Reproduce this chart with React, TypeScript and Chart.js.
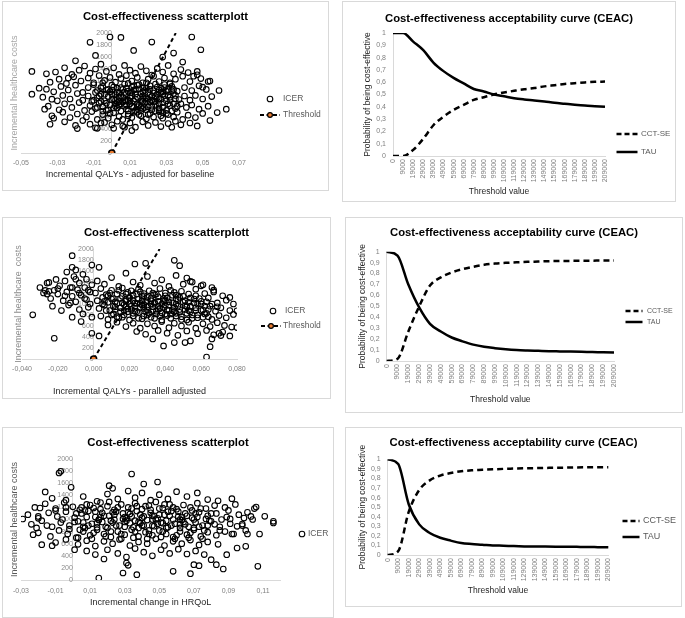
import React, { useEffect, useRef } from 'react';
import { Chart, registerables } from 'chart.js';
Chart.register(...registerables);

const FONT = '"Liberation Sans Narrow", "Liberation Sans", Arial, sans-serif';

// ---------- DATA ----------
const thresholds = ['0','9000','19000','29000','39000','49000','59000','69000','79000','89000','99000','109000','119000','129000','139000','149000','159000','169000','179000','189000','199000','209000'];

const tauTop = [1, 1, 0.93, 0.86, 0.76, 0.69, 0.635, 0.59, 0.545, 0.525, 0.5, 0.485, 0.47, 0.46, 0.452, 0.443, 0.433, 0.425, 0.417, 0.41, 0.405, 0.4];
const cctTop = [0, 0, 0.05, 0.14, 0.25, 0.32, 0.375, 0.415, 0.456, 0.478, 0.5, 0.516, 0.53, 0.543, 0.553, 0.566, 0.576, 0.586, 0.592, 0.598, 0.603, 0.605];

const tauMid = [1, 0.965, 0.7, 0.49, 0.34, 0.27, 0.215, 0.18, 0.15, 0.13, 0.117, 0.107, 0.1, 0.096, 0.093, 0.09, 0.088, 0.086, 0.084, 0.082, 0.08, 0.078];
const cctMid = [0, 0.02, 0.27, 0.5, 0.69, 0.765, 0.81, 0.84, 0.862, 0.88, 0.892, 0.898, 0.903, 0.907, 0.91, 0.913, 0.915, 0.916, 0.917, 0.918, 0.919, 0.92];

const tauBot = [1, 0.95, 0.53, 0.32, 0.23, 0.18, 0.15, 0.125, 0.115, 0.108, 0.1, 0.097, 0.093, 0.09, 0.089, 0.088, 0.087, 0.086, 0.085, 0.084, 0.082, 0.08];
const cctBot = [0, 0.04, 0.45, 0.68, 0.78, 0.83, 0.857, 0.875, 0.885, 0.89, 0.895, 0.9, 0.903, 0.906, 0.908, 0.91, 0.912, 0.913, 0.915, 0.916, 0.917, 0.918];

const xTicksTop = [-0.05, -0.03, -0.01, 0.01, 0.03, 0.05, 0.07];
const xTicksMid = [-0.04, -0.02, 0, 0.02, 0.04, 0.06, 0.08];
const xTicksBot = [-0.03, -0.01, 0.01, 0.03, 0.05, 0.07, 0.09, 0.11];

const thresholdTop: [number, number][] = [[0, 0], [0.0352, 2000]];
const thresholdMid: [number, number][] = [[0, 0], [0.0368, 2000]];

const icerTop: [number, number][] = [
  [-0.044,1359],[-0.044,980],[-0.036,1320],[-0.036,1064],[-0.037,730],[-0.034,479],[-0.033,897],[-0.032,579],[-0.020,1537],[-0.019,407],
  [-0.012,1844],[-0.009,1626],[-0.001,1933],[0.005,1927],[0.012,1710],[0.022,1849],[0.028,1599],[0.034,1665],[0.039,1515],[0.044,1933],
  [0.049,1721],[0.059,1042],[0.063,730],[0.058,674],[0.054,540],[0.047,451],[0.053,1192],[0.050,1097],[0.047,1303],[0.033,429],
  [0.011,373],[0.007,429],[0.001,412],[-0.008,412],[-0.006,501],
  [-0.031,1350],[-0.026,1420],[-0.022,1310],[-0.018,1380],[-0.015,1450],[-0.012,1330],[-0.009,1400],[-0.006,1480],[-0.003,1360],[0.001,1420],
  [0.004,1310],[0.007,1460],[0.010,1380],[0.013,1330],[0.016,1440],[0.019,1370],[0.022,1300],[0.025,1410],[0.028,1350],[0.031,1460],
  [0.034,1320],[0.038,1390],[0.042,1340],[0.047,1360],[-0.024,1250],[0.045,1280],
  [-0.034,1180],[-0.029,1230],[-0.025,1160],[-0.021,1270],[-0.017,1200],[-0.013,1250],[-0.010,1170],[-0.007,1290],[-0.004,1210],[-0.001,1260],
  [0.002,1180],[0.005,1240],[0.008,1290],[0.011,1200],[0.014,1260],[0.017,1170],[0.020,1230],[0.023,1280],[0.026,1190],[0.029,1250],
  [0.032,1170],[0.035,1230],[0.039,1280],[0.043,1190],[0.049,1240],[0.054,1200],
  [-0.040,1080],[-0.032,1020],[-0.028,1110],[-0.024,1050],[-0.020,1130],[-0.016,1010],[-0.013,1090],[-0.010,1140],[-0.008,1040],[-0.005,1110],
  [-0.002,1060],[0.000,1130],[0.003,1010],[0.005,1090],[0.007,1150],[0.009,1030],[0.011,1100],[0.013,1060],[0.015,1140],[0.017,1020],
  [0.019,1080],[0.021,1120],[0.023,1040],[0.025,1100],[0.027,1010],[0.029,1140],[0.031,1060],[0.033,1110],[0.036,1030],[0.040,1090],
  [0.044,1040],[0.048,1120],[0.052,1060],
  [-0.038,930],[-0.030,870],[-0.027,960],[-0.023,900],[-0.019,990],[-0.016,880],[-0.013,950],[-0.011,860],[-0.008,920],[-0.006,980],
  [-0.004,870],[-0.002,940],[0.000,890],[0.002,970],[0.004,860],[0.006,920],[0.008,990],[0.009,880],[0.011,950],[0.012,870],
  [0.014,930],[0.016,990],[0.017,860],[0.019,920],[0.021,970],[0.022,880],[0.024,940],[0.026,900],[0.028,980],[0.030,870],
  [0.032,930],[0.034,990],[0.037,890],[0.040,950],[0.043,880],[0.046,960],[0.050,900],[0.055,940],
  [-0.035,780],[-0.029,720],[-0.026,820],[-0.022,760],[-0.018,840],[-0.015,710],[-0.012,790],[-0.009,740],[-0.007,830],[-0.005,770],
  [-0.003,710],[-0.001,800],[0.001,750],[0.003,840],[0.005,700],[0.007,780],[0.008,730],[0.010,820],[0.012,760],[0.013,710],
  [0.015,800],[0.017,740],[0.018,830],[0.020,770],[0.022,720],[0.024,810],[0.026,750],[0.028,840],[0.030,710],[0.032,790],
  [0.035,740],[0.038,820],[0.041,760],[0.044,800],[0.048,730],[0.053,780],
  [-0.033,620],[-0.027,680],[-0.023,590],[-0.019,650],[-0.014,600],[-0.011,690],[-0.008,560],[-0.005,640],[-0.002,580],[0.001,670],
  [0.004,610],[0.006,560],[0.009,650],[0.011,590],[0.014,680],[0.016,620],[0.019,570],[0.021,660],[0.023,600],[0.026,690],
  [0.028,580],[0.031,640],[0.034,600],[0.036,680],[0.039,560],[0.042,630],[0.046,590],[0.050,660],
  [-0.026,520],[-0.020,460],[-0.016,540],[-0.012,480],[-0.009,420],[-0.004,510],[0.000,470],[0.003,530],[0.006,450],[0.010,500],
  [0.013,430],[0.017,520],[0.020,460],[0.024,510],[0.027,440],[0.031,490],[0.035,530],[0.038,470],[0.043,500],
  [0.004,1000],[0.008,880],[0.012,1050],[0.016,760],[0.020,1010],[0.024,860],[0.028,760],[0.002,820],[0.018,900],[0.026,1050],
  [0.014,820],[0.010,920],
  [-0.009,1010],[-0.007,950],[-0.005,1170],[-0.003,830],[-0.001,1020],[0.001,900],[0.003,1080],[0.005,960],[0.007,870],[0.009,1160],
  [0.011,1010],[0.013,900],[0.015,1070],[0.017,950],[0.019,1170],[0.021,850],[0.023,1000],[0.025,920],[0.027,1080],[0.029,960],
  [0.031,820],[0.033,1040],[0.035,900],[-0.008,760],[-0.006,1090],[-0.004,980],[-0.002,720],[0.000,1050],[0.002,780],[0.004,930],
  [0.006,1060],[0.008,800],[0.010,1000],[0.012,680],[0.014,1130],[0.016,870],[0.018,1040],[0.020,640],[0.022,950],[0.024,1150],
  [0.026,820],[0.028,1020],[0.030,660],[0.032,880],[0.034,1060],[0.036,780],[-0.010,880],[-0.005,700],[0.000,980],[0.003,750],
  [0.006,850],[0.009,700],[0.012,1120],[0.015,640],[0.018,760],[0.021,1060],[0.024,700],[0.027,900],[0.030,1030],[0.033,700],
  [0.001,1100],[0.004,800],[0.007,1010],[0.010,860],[0.013,980],[0.016,700],[0.019,860],[0.022,780],[0.025,980],[0.028,680],
  [0.031,960],[0.034,820],[-0.003,1050],[-0.006,860],[0.002,880],[0.008,1080],[0.014,770],[0.020,900],[0.026,720],[0.032,1150],
  [0.005,820],[0.011,780],[0.017,1090],[0.023,860],[0.029,1090],[0.035,960],[-0.001,660],[0.009,620],[0.019,720],[0.027,620]
];

const icerMid: [number, number][] = [
  [-0.034,803],[-0.022,377],[-0.027,1246],[-0.026,1180],[-0.025,1392],[-0.021,1447],[-0.012,1879],[-0.012,1666],[-0.001,1708],[0.003,1666],
  [-0.001,468],[0.003,420],[0.023,1727],[0.029,1739],[0.033,365],[0.039,237],[0.045,1794],[0.048,1696],[0.045,298],[0.051,298],
  [0.054,328],[0.063,36],[0.065,225],[0.066,365],[0.076,1119],[0.080,876],[0.080,571],[0.076,420],[0.070,468],[0.071,426],
  [0.067,1252],[0.061,1350],[0.055,1398],[0.052,1471],
  [-0.030,1300],[-0.028,1200],[-0.026,1380],[-0.024,1100],[-0.022,1250],[-0.020,1180],[-0.019,1330],[-0.017,1060],[-0.016,1420],[-0.015,1220],
  [-0.014,980],[-0.013,1300],[-0.012,1140],[-0.011,1500],[-0.010,1040],[-0.009,1260],[-0.008,900],[-0.008,1380],[-0.007,1160],[-0.006,820],
  [-0.005,1300],[-0.004,1080],[-0.004,1450],[-0.003,940],[-0.002,1220],[-0.001,760],[-0.001,1350],[-0.018,880],[-0.023,960],[-0.012,760],
  [-0.007,680],[-0.015,1580],[-0.010,1620],[-0.006,1540],
  [0.002,1420],[0.006,1360],[0.010,1480],[0.014,1320],[0.018,1560],[0.022,1400],[0.026,1340],[0.030,1500],[0.034,1380],[0.038,1440],
  [0.042,1320],[0.046,1520],[0.050,1360],[0.054,1410],[0.060,1330],[0.066,1300],
  [0.001,1200],[0.004,1280],[0.007,1170],[0.010,1250],[0.013,1180],[0.016,1290],[0.019,1210],[0.022,1160],[0.025,1270],[0.028,1190],
  [0.031,1240],[0.034,1170],[0.037,1280],[0.040,1200],[0.043,1250],[0.046,1160],[0.049,1230],[0.053,1180],[0.057,1270],[0.062,1190],
  [0.067,1220],[0.072,1150],
  [0.002,1060],[0.005,1120],[0.008,1030],[0.011,1100],[0.013,1010],[0.016,1140],[0.018,1050],[0.020,1110],[0.023,1020],[0.025,1090],
  [0.027,1140],[0.029,1040],[0.032,1100],[0.034,1010],[0.036,1130],[0.039,1060],[0.041,1110],[0.044,1020],[0.047,1080],[0.050,1140],
  [0.053,1030],[0.056,1090],[0.060,1050],[0.064,1110],[0.069,1020],[0.074,1070],[0.078,1000],
  [0.003,920],[0.006,980],[0.009,880],[0.012,950],[0.015,860],[0.017,990],[0.019,910],[0.021,960],[0.023,870],[0.026,940],
  [0.028,990],[0.030,890],[0.033,950],[0.035,870],[0.037,920],[0.040,980],[0.042,880],[0.045,940],[0.048,900],[0.051,970],
  [0.054,860],[0.057,930],[0.061,890],[0.065,960],[0.068,870],[0.071,930],[0.076,880],
  [0.004,780],[0.008,720],[0.011,820],[0.014,750],[0.017,800],[0.020,710],[0.022,780],[0.025,840],[0.027,730],[0.030,800],
  [0.032,760],[0.035,820],[0.038,710],[0.041,790],[0.043,740],[0.046,830],[0.049,770],[0.052,710],[0.055,800],[0.058,750],
  [0.062,820],[0.066,720],[0.070,790],[0.074,750],[0.078,810],
  [0.008,620],[0.013,670],[0.018,590],[0.022,650],[0.026,560],[0.030,640],[0.034,600],[0.038,680],[0.042,570],[0.045,650],
  [0.049,600],[0.053,670],[0.057,560],[0.061,640],[0.065,590],[0.069,660],[0.073,610],[0.077,580],
  [0.024,500],[0.029,450],[0.036,520],[0.041,470],[0.047,430],[0.052,510],[0.058,460],[0.063,520],[0.067,440],[0.072,490],
  [0.020,1000],[0.024,1180],[0.028,920],[0.032,1060],[0.036,960],[0.040,1150],[0.044,880],[0.018,1080],[0.030,1120],[0.038,840],
  [0.046,1000],[0.026,1010],
  [0.006,1050],[0.009,1200],[0.012,900],[0.015,1100],[0.018,960],[0.021,1240],[0.024,860],[0.027,1060],[0.030,950],[0.033,1200],
  [0.036,900],[0.039,1100],[0.042,980],[0.045,1210],[0.048,850],[0.051,1060],[0.054,960],[0.057,1150],[0.060,880],[0.063,1040],
  [0.007,880],[0.010,1090],[0.013,770],[0.016,1020],[0.019,860],[0.022,1060],[0.025,740],[0.028,1150],[0.031,830],[0.034,1030],
  [0.037,780],[0.040,1060],[0.043,820],[0.046,1090],[0.049,720],[0.052,950],[0.055,740],[0.058,1000],[0.061,760],[0.064,900],
  [0.008,1150],[0.011,960],[0.014,1250],[0.017,880],[0.020,1120],[0.023,960],[0.026,1220],[0.029,860],[0.032,1000],[0.035,1180],
  [0.038,1000],[0.041,890],[0.044,1160],[0.047,960],[0.050,1030],[0.053,880],[0.056,1020],[0.059,1100],[0.062,960],[0.066,1000],
  [0.005,1000],[0.012,1040],[0.018,1180],[0.024,1010],[0.030,1060],[0.036,1050],[0.042,1040],[0.048,1120],[0.054,1110],[0.060,1000],
  [0.015,930],[0.021,900],[0.027,980],[0.033,880],[0.039,940],[0.045,860],[0.051,900],[0.057,880],[0.063,830],[0.069,950],
  [0.010,800],[0.016,760],[0.022,830],[0.028,780],[0.034,740],[0.040,820],[0.046,780],[0.052,830],[0.058,800],[0.064,770],
  [-0.005,1100],[-0.008,1200],[-0.012,1300],[-0.003,1250],[-0.016,1150],[-0.020,1280],[-0.010,1450],[-0.025,1230],[-0.002,1000],[-0.013,1020]
];

const icerBot: [number, number][] = [
  [-0.029,1008],[-0.023,749],[-0.021,860],[-0.018,584],[-0.019,1190],[-0.016,1455],[-0.012,567],[-0.008,1769],[-0.007,1796],[-0.001,1532],
  [0.001,501],[0.015,33],[0.018,347],[0.021,1559],[0.023,1515],[0.029,116],[0.031,281],[0.032,242],[0.034,1752],[0.037,88],
  [0.041,1587],[0.049,1620],[0.058,143],[0.068,105],[0.070,253],[0.073,237],[0.080,336],[0.083,253],[0.087,182],[0.089,419],
  [0.092,1344],[0.095,529],[0.100,556],[0.101,760],[0.107,226],[0.108,760],[0.111,1052],[0.116,942],[0.116,970],[0.106,1207],
  [0.105,1180],[0.101,1118],[0.099,1025],[0.104,1000],[0.098,926],[0.095,887],[0.091,1010],[0.100,820],
  [-0.012,1350],[-0.004,1320],[0.006,1380],[0.014,1300],[0.020,1420],[0.026,1340],[0.032,1470],[0.036,1360],[0.040,1440],[0.045,1320],
  [0.050,1410],[0.055,1340],[0.060,1460],[0.066,1380],[0.072,1440],[0.078,1330],[0.084,1310],
  [-0.022,1200],[-0.016,1260],[-0.010,1180],[-0.005,1280],[0.000,1210],[0.004,1160],[0.008,1250],[0.012,1190],[0.016,1280],[0.020,1220],
  [0.024,1160],[0.028,1250],[0.032,1200],[0.036,1270],[0.040,1170],[0.044,1230],[0.048,1290],[0.052,1190],[0.056,1250],[0.060,1170],
  [0.064,1240],[0.068,1200],[0.072,1270],[0.077,1180],[0.082,1230],[0.088,1200],[0.094,1250],
  [-0.026,1080],[-0.020,1020],[-0.014,1110],[-0.009,1050],[-0.004,1130],[0.001,1030],[0.005,1100],[0.009,1140],[0.013,1040],[0.017,1110],
  [0.021,1060],[0.025,1130],[0.029,1010],[0.033,1090],[0.037,1140],[0.041,1050],[0.045,1110],[0.049,1020],[0.053,1080],[0.057,1140],
  [0.061,1050],[0.065,1100],[0.069,1030],[0.073,1120],[0.078,1060],[0.083,1100],[0.089,1040],[0.096,1080],[0.103,1050],
  [-0.024,920],[-0.018,980],[-0.012,880],[-0.007,950],[-0.002,900],[0.003,970],[0.007,860],[0.011,930],[0.015,990],[0.019,880],
  [0.023,950],[0.027,900],[0.031,980],[0.035,870],[0.039,940],[0.043,990],[0.047,890],[0.051,950],[0.055,870],[0.059,930],
  [0.063,990],[0.067,880],[0.071,950],[0.075,900],[0.080,970],[0.085,880],[0.091,930],[0.098,900],
  [-0.020,780],[-0.013,720],[-0.008,820],[-0.003,760],[0.002,700],[0.006,800],[0.010,740],[0.014,830],[0.018,760],[0.022,710],
  [0.026,800],[0.030,750],[0.034,830],[0.038,720],[0.042,790],[0.046,740],[0.050,820],[0.054,760],[0.058,710],[0.062,800],
  [0.066,750],[0.070,830],[0.074,720],[0.078,790],[0.083,740],[0.088,800],[0.093,760],
  [-0.010,620],[-0.004,670],[0.003,590],[0.008,650],[0.013,560],[0.018,640],[0.023,600],[0.028,680],[0.033,570],[0.038,630],
  [0.043,600],[0.048,680],[0.053,570],[0.058,640],[0.063,600],[0.068,660],[0.073,580],[0.078,630],[0.084,590],
  [0.008,480],[0.013,420],[0.020,500],[0.026,440],[0.031,380],[0.036,520],[0.041,460],[0.046,400],[0.051,500],[0.056,440],
  [0.061,510],[0.066,430],[0.071,480],[0.076,420],
  [0.030,1040],[0.040,900],[0.046,1060],[0.052,940],[0.036,980],[0.024,1080],[0.058,1000],[0.044,820],[0.034,1180],[0.050,1180],
  [0.062,920],[0.016,1040],
  [0.002,1100],[0.006,950],[0.010,1240],[0.014,870],[0.018,1060],[0.022,980],[0.026,1200],[0.030,880],[0.034,1050],[0.038,960],
  [0.042,1220],[0.046,900],[0.050,1080],[0.054,980],[0.058,1200],[0.062,860],[0.066,1060],[0.070,1000],[0.074,1180],[0.078,900],
  [0.004,830],[0.008,1040],[0.012,780],[0.016,1170],[0.020,860],[0.024,1000],[0.028,760],[0.032,1120],[0.036,800],[0.040,1030],
  [0.044,760],[0.048,1000],[0.052,800],[0.056,1060],[0.060,740],[0.064,960],[0.068,780],[0.072,1040],[0.076,820],[0.080,1100],
  [0.001,960],[0.005,1200],[0.009,900],[0.013,1130],[0.017,960],[0.021,1290],[0.025,900],[0.029,1100],[0.033,940],[0.037,1220],
  [0.041,900],[0.045,1160],[0.049,930],[0.053,1250],[0.057,900],[0.061,1130],[0.065,920],[0.069,1150],[0.073,880],[0.077,1010],
  [0.003,700],[0.011,680],[0.019,720],[0.027,670],[0.035,700],[0.043,680],[0.051,710],[0.059,680],[0.067,700],[0.075,680],
  [0.007,1150],[0.015,1000],[0.023,1120],[0.031,1020],[0.039,1080],[0.047,1060],[0.055,1130],[0.063,1040],[0.071,1100],[0.079,980],
  [0.006,880],[0.014,940],[0.022,800],[0.030,960],[0.038,860],[0.046,1000],[0.054,860],[0.062,1000],[0.070,860],[0.082,920],
  [-0.006,1000],[-0.010,1150],[-0.015,900],[-0.002,840],[-0.020,1050],[-0.004,1200],[0.086,1000],[0.090,1150],[0.085,820],[0.092,760]
];

// ---------- HELPERS ----------
type LegendItem = { text: string; kind: 'ring' | 'threshold' | 'dash' | 'solid'; x: number; y: number; w?: number; tx: number };

function legendPlugin(items: LegendItem[], size: number) {
  return {
    id: 'customLegend',
    afterDraw(chart: any) {
      const ctx = chart.ctx as CanvasRenderingContext2D;
      ctx.save();
      for (const it of items) {
        ctx.strokeStyle = '#000';
        if (it.kind === 'ring') {
          ctx.lineWidth = 1.1;
          ctx.beginPath();
          ctx.arc(it.x, it.y, 2.8, 0, Math.PI * 2);
          ctx.stroke();
        } else if (it.kind === 'threshold') {
          ctx.lineWidth = 2;
          ctx.setLineDash([4, 2.5]);
          ctx.beginPath();
          ctx.moveTo(it.x - 10, it.y);
          ctx.lineTo(it.x + 10, it.y);
          ctx.stroke();
          ctx.setLineDash([]);
          ctx.beginPath();
          ctx.arc(it.x, it.y, 2.4, 0, Math.PI * 2);
          ctx.fillStyle = '#ed7d31';
          ctx.fill();
          ctx.lineWidth = 1.2;
          ctx.stroke();
        } else {
          const hw = (it.w || 20) / 2;
          ctx.lineWidth = 2.5;
          ctx.setLineDash(it.kind === 'dash' ? [5, 3] : []);
          ctx.beginPath();
          ctx.moveTo(it.x - hw, it.y);
          ctx.lineTo(it.x + hw, it.y);
          ctx.stroke();
          ctx.setLineDash([]);
        }
        ctx.fillStyle = '#595959';
        ctx.font = `${size}px ${FONT}`;
        ctx.textAlign = 'left';
        ctx.textBaseline = 'middle';
        ctx.fillText(it.text, it.tx, it.y);
      }
      ctx.restore();
    },
  };
}

const TITLE_SIZE = 11.3;
const titleOpts = (text: string, center: number, areaTop: number) => {
  const lh = TITLE_SIZE * 1.2;
  const top = center - lh / 2;
  return {
    display: true,
    text,
    color: '#000',
    font: { family: FONT, size: TITLE_SIZE, weight: 'bold' as const },
    padding: { top, bottom: areaTop - top - lh },
  };
};

const reserveAxis = (w: number) => ({
  type: 'linear' as const,
  position: 'right' as const,
  display: true,
  ticks: { display: false },
  grid: { display: false, drawTicks: false },
  border: { display: false },
  afterFit: (s: any) => { s.width = w; },
});

type ScatterSpec = {
  title: string; titleCenter: number; areaTop: number; left: number; right: number; xAxisH: number;
  xTitle: string; xTitleFromBottom: number; xLabelGap: number; xMin: number; xMax: number; xTicks: number[]; digits: number;
  yTitle: string; yTitleX: number; yTitleColor: string;
  icer: [number, number][]; threshold?: [number, number][]; legend: LegendItem[];
};

function scatterConfig(p: ScatterSpec): any {
  const axisFont = 9;
  const datasets: any[] = [];
  if (p.threshold) {
    datasets.push({
      label: 'Threshold',
      data: p.threshold.map(([x, y]) => ({ x, y })),
      showLine: true,
      borderColor: '#000',
      borderWidth: 2,
      borderDash: [4, 3],
      pointRadius: [3, 0],
      pointBackgroundColor: '#ed7d31',
      pointBorderColor: '#000',
      pointBorderWidth: 1.5,
      yAxisID: 'y',
      order: 0,
    });
  }
  datasets.push({
    label: 'ICER',
    data: p.icer.map(([x, y]) => ({ x, y })),
    pointRadius: 2.8,
    pointBorderWidth: 1.1,
    pointBorderColor: '#000',
    pointBackgroundColor: 'rgba(0,0,0,0)',
    yAxisID: 'y',
    order: 1,
  });
  return {
    type: 'scatter',
    data: { datasets },
    options: {
      responsive: false,
      animation: false,
      devicePixelRatio: 1,
      layout: { padding: 0 },
      plugins: {
        legend: { display: false },
        tooltip: { enabled: false },
        title: titleOpts(p.title, p.titleCenter, p.areaTop),
      },
      scales: {
        x: {
          type: 'linear',
          position: 'bottom',
          min: p.xMin,
          max: p.xMax,
          afterBuildTicks: (s: any) => { s.ticks = p.xTicks.map((v) => ({ value: v })); },
          ticks: {
            callback: (v: any) => Number(v).toFixed(p.digits).replace('.', ','),
            font: { family: FONT, size: 7 },
            color: '#7f7f7f',
            padding: p.xLabelGap - 4.2,
            maxRotation: 0,
            autoSkip: false,
          },
          grid: { display: false, drawTicks: false },
          border: { display: true, color: '#d9d9d9' },
          title: {
            display: true,
            text: p.xTitle,
            color: '#262626',
            font: { family: FONT, size: axisFont },
            padding: { top: 0, bottom: p.xTitleFromBottom - axisFont * 0.6 },
          },
          afterFit: (s: any) => { s.height = p.xAxisH; },
        },
        y: {
          type: 'linear',
          position: { x: 0 },
          min: 0,
          max: 2000,
          ticks: {
            stepSize: 200,
            autoSkip: false,
            callback: (v: any) => String(Math.round(Number(v))),
            font: { family: FONT, size: 7 },
            color: '#8c8c8c',
            padding: 5,
          },
          grid: { display: false, drawTicks: false },
          border: { display: true, color: '#d9d9d9' },
        },
        yt: {
          type: 'linear',
          position: 'left',
          display: true,
          ticks: { display: false },
          grid: { display: false, drawTicks: false },
          border: { display: false },
          title: {
            display: true,
            text: p.yTitle,
            color: p.yTitleColor,
            font: { family: FONT, size: axisFont },
            padding: { top: p.yTitleX - axisFont * 0.6, bottom: 0 },
          },
          afterFit: (s: any) => { s.width = p.left; },
        },
        yr: reserveAxis(p.right),
      },
    },
    plugins: [legendPlugin(p.legend, 8.5)],
  };
}

type CeacSpec = {
  titleCenter: number; areaTop: number; left: number; right: number; xAxisH: number;
  xTitleFromBottom: number; yTitleX: number; tau: number[]; cct: number[]; legend: LegendItem[]; legendSize: number;
};

function ceacConfig(p: CeacSpec): any {
  const axisFont = 8.5;
  return {
    type: 'line',
    data: {
      labels: thresholds,
      datasets: [
        {
          label: 'CCT-SE', data: p.cct, borderColor: '#000', borderWidth: 2.5, borderDash: [6, 4],
          pointRadius: 0, cubicInterpolationMode: 'monotone', fill: false,
        },
        {
          label: 'TAU', data: p.tau, borderColor: '#000', borderWidth: 2.5,
          pointRadius: 0, cubicInterpolationMode: 'monotone', fill: false,
        },
      ],
    },
    options: {
      responsive: false,
      animation: false,
      devicePixelRatio: 1,
      layout: { padding: 0 },
      plugins: {
        legend: { display: false },
        tooltip: { enabled: false },
        title: titleOpts('Cost-effectiveness acceptability curve (CEAC)', p.titleCenter, p.areaTop),
      },
      scales: {
        x: {
          type: 'category',
          offset: false,
          ticks: {
            autoSkip: false, minRotation: 90, maxRotation: 90,
            font: { family: FONT, size: 7 }, color: '#7f7f7f', padding: 3,
          },
          grid: { display: false, drawTicks: false },
          border: { display: true, color: '#d9d9d9' },
          title: {
            display: true, text: 'Threshold value', color: '#262626',
            font: { family: FONT, size: axisFont },
            padding: { top: 0, bottom: p.xTitleFromBottom - axisFont * 0.6 },
          },
          afterFit: (s: any) => { s.height = p.xAxisH; },
        },
        y: {
          type: 'linear',
          position: 'left',
          min: 0,
          max: 1,
          ticks: {
            stepSize: 0.1,
            autoSkip: false,
            callback: (v: any) => {
              const r = Math.round(Number(v) * 10) / 10;
              return r === 0 ? '0' : r === 1 ? '1' : r.toFixed(1).replace('.', ',');
            },
            font: { family: FONT, size: 7 }, color: '#7f7f7f', padding: 7,
          },
          grid: { display: false, drawTicks: false },
          border: { display: true, color: '#d9d9d9' },
          title: {
            display: true, text: 'Probability of being cost-effective', color: '#262626',
            font: { family: FONT, size: axisFont },
            padding: { top: p.yTitleX - axisFont * 0.6, bottom: 0 },
          },
          afterFit: (s: any) => { s.width = p.left; },
        },
        yr: reserveAxis(p.right),
      },
    },
    plugins: [legendPlugin(p.legend, p.legendSize)],
  };
}

type Box = { left: number; top: number; w: number; h: number };

function Panel({ box, make }: { box: Box; make: () => any }) {
  const ref = useRef<HTMLCanvasElement>(null);
  useEffect(() => {
    const chart = new Chart(ref.current as HTMLCanvasElement, make());
    return () => chart.destroy();
  }, []);
  return (
    <div style={{ position: 'absolute', left: box.left, top: box.top, width: box.w, height: box.h, border: '1px solid #d9d9d9', boxSizing: 'border-box', background: '#fff' }}>
      <canvas ref={ref} width={box.w - 2} height={box.h - 2} style={{ display: 'block', width: box.w - 2, height: box.h - 2 }} />
    </div>
  );
}

export default function App() {
  return (
    <div style={{ position: 'absolute', left: 0, top: 0, width: 685, height: 618, background: '#fff', overflow: 'hidden' }}>
      <Panel
        box={{ left: 2, top: 1, w: 327, h: 190 }}
        make={() => scatterConfig({
          title: 'Cost-effectiveness scatterplott', titleCenter: 15, areaTop: 31, left: 18, right: 89, xAxisH: 37,
          xTitle: 'Incremental QALYs - adjusted for baseline', xTitleFromBottom: 15, xLabelGap: 10,
          xMin: -0.05, xMax: 0.07, xTicks: xTicksTop, digits: 2,
          yTitle: 'Incremental healthcare costs', yTitleX: 12, yTitleColor: '#a6a6a6',
          icer: icerTop, threshold: thresholdTop,
          legend: [
            { text: 'ICER', kind: 'ring', x: 267, y: 97, tx: 280 },
            { text: 'Threshold', kind: 'threshold', x: 267, y: 113, tx: 280 },
          ],
        })}
      />
      <Panel
        box={{ left: 342, top: 1, w: 334, h: 201 }}
        make={() => ceacConfig({
          titleCenter: 17, areaTop: 31, left: 50, right: 70, xAxisH: 45, xTitleFromBottom: 9, yTitleX: 25,
          tau: tauTop, cct: cctTop, legendSize: 8,
          legend: [
            { text: 'CCT-SE', kind: 'dash', x: 284, y: 132, w: 21, tx: 298 },
            { text: 'TAU', kind: 'solid', x: 284, y: 150, w: 21, tx: 298 },
          ],
        })}
      />
      <Panel
        box={{ left: 2, top: 217, w: 329, h: 182 }}
        make={() => scatterConfig({
          title: 'Cost-effectiveness scatterplott', titleCenter: 15, areaTop: 31, left: 19, right: 93, xAxisH: 39,
          xTitle: 'Incremental QALYs - parallell adjusted', xTitleFromBottom: 6, xLabelGap: 10,
          xMin: -0.04, xMax: 0.08, xTicks: xTicksMid, digits: 3,
          yTitle: 'Incremental healthcare  costs', yTitleX: 16, yTitleColor: '#8c8c8c',
          icer: icerMid, threshold: thresholdMid,
          legend: [
            { text: 'ICER', kind: 'ring', x: 270, y: 93, tx: 282 },
            { text: 'Threshold', kind: 'threshold', x: 268, y: 108, tx: 280 },
          ],
        })}
      />
      <Panel
        box={{ left: 345, top: 217, w: 338, h: 196 }}
        make={() => ceacConfig({
          titleCenter: 15, areaTop: 33.7, left: 40.7, right: 68, xAxisH: 51, xTitleFromBottom: 12, yTitleX: 17,
          tau: tauMid, cct: cctMid, legendSize: 7,
          legend: [
            { text: 'CCT-SE', kind: 'dash', x: 288, y: 93, w: 17, tx: 301 },
            { text: 'TAU', kind: 'solid', x: 288, y: 104, w: 17, tx: 301 },
          ],
        })}
      />
      <Panel
        box={{ left: 2, top: 427, w: 332, h: 191 }}
        make={() => scatterConfig({
          title: 'Cost-effectiveness scatterplot', titleCenter: 15, areaTop: 31, left: 18, right: 52.7, xAxisH: 37,
          xTitle: 'Incremental change in HRQoL', xTitleFromBottom: 14, xLabelGap: 11,
          xMin: -0.03, xMax: 0.12, xTicks: xTicksBot, digits: 2,
          yTitle: 'Incremental healthcare costs', yTitleX: 12, yTitleColor: '#595959',
          icer: icerBot,
          legend: [
            { text: 'ICER', kind: 'ring', x: 299, y: 106, tx: 305 },
          ],
        })}
      />
      <Panel
        box={{ left: 345, top: 427, w: 337, h: 180 }}
        make={() => ceacConfig({
          titleCenter: 15, areaTop: 31.3, left: 41.7, right: 72.7, xAxisH: 51, xTitleFromBottom: 15, yTitleX: 17,
          tau: tauBot, cct: cctBot, legendSize: 9,
          legend: [
            { text: 'CCT-SE', kind: 'dash', x: 285, y: 93, w: 17, tx: 297 },
            { text: 'TAU', kind: 'solid', x: 285, y: 109, w: 17, tx: 297 },
          ],
        })}
      />
    </div>
  );
}
